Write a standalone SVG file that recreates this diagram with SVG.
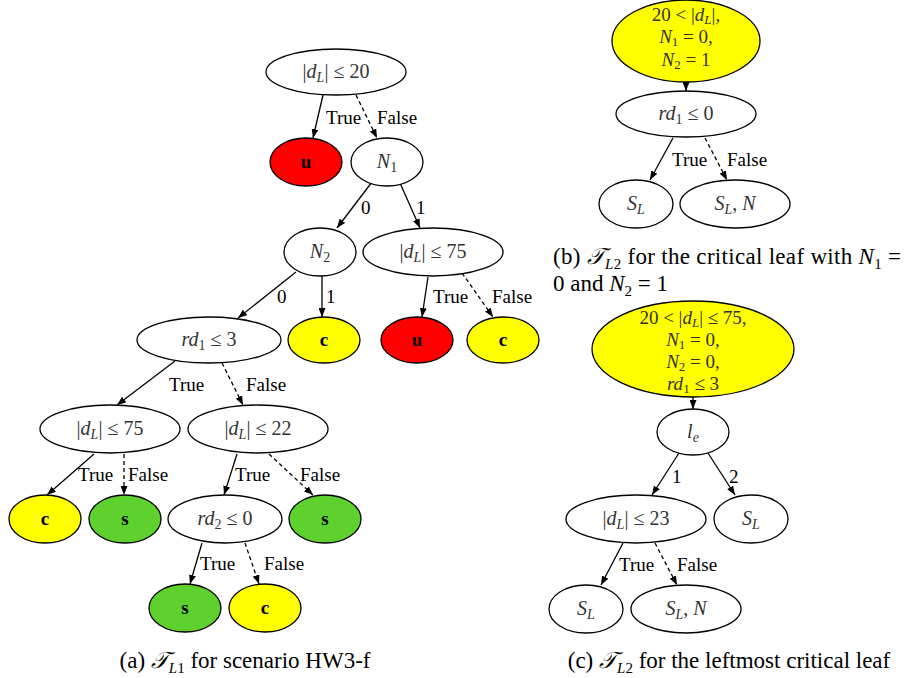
<svg xmlns="http://www.w3.org/2000/svg" width="907" height="678" viewBox="0 0 907 678">
<style>
.n{stroke:#000;stroke-width:1.3;fill:#fff}
.red{fill:#ff0000}
.yel{fill:#ffff00}
.grn{fill:#5fd12f}
.m{font-family:"Liberation Serif","DejaVu Serif",serif;font-size:20px;fill:#333;text-anchor:middle}
.ml{font-size:19px}
.lf{font-family:"Liberation Serif","DejaVu Serif",serif;font-size:19px;font-weight:bold;fill:#000;text-anchor:middle}
.i{font-style:italic}
.sb{font-size:14px;baseline-shift:-4px}
.ml .sb{font-size:13px;baseline-shift:-3px}
.lb{font-family:"Liberation Serif","DejaVu Serif",serif;font-size:19px;fill:#000}
.cap{font-family:"Liberation Serif","DejaVu Serif",serif;font-size:23px;fill:#000}
.cap .sb{font-size:15px;baseline-shift:-5px}
.cal{font-family:"DejaVu Sans","Noto Sans",serif;font-style:italic}
.e{stroke:#000;stroke-width:1.3;fill:none;marker-end:url(#ah)}
.d{stroke-dasharray:4,3}
</style>
<defs>
<marker id="ah" markerUnits="userSpaceOnUse" markerWidth="9" markerHeight="7" refX="9" refY="3.5" orient="auto">
<path d="M0,0 L9,3.5 L0,7 z" fill="#000"/>
</marker>
</defs>

<g id="connectors">
<line class="e" x1="323" y1="95" x2="313" y2="138"/>
<line class="e d" x1="356" y1="95" x2="377" y2="138"/>
<line class="e" x1="372" y1="182" x2="337" y2="228"/>
<line class="e" x1="400" y1="183" x2="420" y2="228"/>
<line class="e" x1="296" y1="272" x2="238" y2="318"/>
<line class="e" x1="322" y1="276" x2="322" y2="317"/>
<line class="e" x1="428" y1="277" x2="422" y2="317"/>
<line class="e d" x1="462" y1="273" x2="493" y2="317"/>
<line class="e" x1="175" y1="361" x2="117" y2="405"/>
<line class="e d" x1="222" y1="363" x2="243" y2="405"/>
<line class="e" x1="94" y1="454" x2="47" y2="495"/>
<line class="e d" x1="124" y1="454" x2="124" y2="495"/>
<line class="e" x1="237" y1="454" x2="224" y2="495"/>
<line class="e d" x1="269" y1="454" x2="313" y2="495"/>
<line class="e" x1="202" y1="543" x2="190" y2="584"/>
<line class="e d" x1="245" y1="543" x2="259" y2="584"/>
<line class="e" x1="686" y1="82" x2="686" y2="91"/>
<line class="e" x1="673" y1="138" x2="650" y2="180"/>
<line class="e d" x1="705" y1="138" x2="727" y2="180"/>
<line class="e" x1="693" y1="397" x2="693" y2="409"/>
<line class="e" x1="679" y1="453" x2="652" y2="495"/>
<line class="e" x1="708" y1="453" x2="735" y2="495"/>
<line class="e" x1="623" y1="543" x2="601" y2="585"/>
<line class="e d" x1="655" y1="543" x2="677" y2="585"/>
</g>

<g id="edge-labels">
<text class="lb" x="326" y="124">True</text>
<text class="lb" x="377" y="124">False</text>
<text class="lb" x="361" y="214">0</text>
<text class="lb" x="416" y="214">1</text>
<text class="lb" x="277" y="303">0</text>
<text class="lb" x="326" y="303">1</text>
<text class="lb" x="433" y="303">True</text>
<text class="lb" x="492" y="303">False</text>
<text class="lb" x="169" y="391">True</text>
<text class="lb" x="246" y="391">False</text>
<text class="lb" x="78" y="481">True</text>
<text class="lb" x="128" y="481">False</text>
<text class="lb" x="235" y="481">True</text>
<text class="lb" x="300" y="481">False</text>
<text class="lb" x="200" y="570">True</text>
<text class="lb" x="264" y="570">False</text>
<text class="lb" x="672" y="166">True</text>
<text class="lb" x="727" y="166">False</text>
<text class="lb" x="672" y="483">1</text>
<text class="lb" x="729" y="483">2</text>
<text class="lb" x="619" y="571">True</text>
<text class="lb" x="677" y="571">False</text>
</g>

<g id="a-root"><ellipse class="n" cx="336" cy="72" rx="70" ry="23"/><text class="m" x="336" y="78">|<tspan class="i">d</tspan><tspan class="sb i">L</tspan>| ≤ 20</text></g>
<g id="a-u1"><ellipse class="n red" cx="306" cy="162" rx="36" ry="24"/><text class="lf" x="306" y="168">u</text></g>
<g id="a-N1"><ellipse class="n" cx="387" cy="162" rx="36" ry="24"/><text class="m" x="387" y="168"><tspan class="i">N</tspan><tspan class="sb">1</tspan></text></g>
<g id="a-N2"><ellipse class="n" cx="320" cy="252" rx="36" ry="24"/><text class="m" x="320" y="258"><tspan class="i">N</tspan><tspan class="sb">2</tspan></text></g>
<g id="a-dl75r"><ellipse class="n" cx="433" cy="252" rx="70" ry="24"/><text class="m" x="433" y="258">|<tspan class="i">d</tspan><tspan class="sb i">L</tspan>| ≤ 75</text></g>
<g id="a-rd1"><ellipse class="n" cx="209" cy="340" rx="72" ry="23"/><text class="m" x="209" y="346"><tspan class="i">rd</tspan><tspan class="sb">1</tspan> ≤ 3</text></g>
<g id="a-c1"><ellipse class="n yel" cx="324" cy="340" rx="36" ry="23"/><text class="lf" x="324" y="346">c</text></g>
<g id="a-u2"><ellipse class="n red" cx="417" cy="340" rx="36" ry="23"/><text class="lf" x="417" y="346">u</text></g>
<g id="a-c2"><ellipse class="n yel" cx="503" cy="340" rx="36" ry="23"/><text class="lf" x="503" y="346">c</text></g>
<g id="a-dl75l"><ellipse class="n" cx="110" cy="429" rx="70" ry="24"/><text class="m" x="110" y="435">|<tspan class="i">d</tspan><tspan class="sb i">L</tspan>| ≤ 75</text></g>
<g id="a-dl22"><ellipse class="n" cx="258" cy="429" rx="70" ry="24"/><text class="m" x="258" y="435">|<tspan class="i">d</tspan><tspan class="sb i">L</tspan>| ≤ 22</text></g>
<g id="a-c3"><ellipse class="n yel" cx="45" cy="519" rx="36" ry="24"/><text class="lf" x="45" y="525">c</text></g>
<g id="a-s1"><ellipse class="n grn" cx="125" cy="519" rx="36" ry="24"/><text class="lf" x="125" y="525">s</text></g>
<g id="a-rd2"><ellipse class="n" cx="225" cy="519" rx="57" ry="24"/><text class="m" x="225" y="525"><tspan class="i">rd</tspan><tspan class="sb">2</tspan> ≤ 0</text></g>
<g id="a-s2"><ellipse class="n grn" cx="325" cy="519" rx="36" ry="24"/><text class="lf" x="325" y="525">s</text></g>
<g id="a-s3"><ellipse class="n grn" cx="185" cy="608" rx="36" ry="24"/><text class="lf" x="185" y="614">s</text></g>
<g id="a-c4"><ellipse class="n yel" cx="265" cy="608" rx="36" ry="24"/><text class="lf" x="265" y="614">c</text></g>

<g id="b-root"><ellipse class="n yel" cx="686" cy="41" rx="74" ry="41"/>
<text class="m ml" x="686" y="21">20 &lt; |<tspan class="i">d</tspan><tspan class="sb i">L</tspan>|,</text>
<text class="m ml" x="686" y="43"><tspan class="i">N</tspan><tspan class="sb">1</tspan> = 0,</text>
<text class="m ml" x="686" y="66"><tspan class="i">N</tspan><tspan class="sb">2</tspan> = 1</text></g>
<g id="b-rd1"><ellipse class="n" cx="686" cy="114" rx="70" ry="23"/><text class="m" x="686" y="120"><tspan class="i">rd</tspan><tspan class="sb">1</tspan> ≤ 0</text></g>
<g id="b-SL"><ellipse class="n" cx="636" cy="204" rx="37" ry="24"/><text class="m" x="636" y="210"><tspan class="i">S</tspan><tspan class="sb i">L</tspan></text></g>
<g id="b-SLN"><ellipse class="n" cx="735" cy="204" rx="55" ry="24"/><text class="m" x="735" y="210"><tspan class="i">S</tspan><tspan class="sb i">L</tspan>, <tspan class="i">N</tspan></text></g>

<g id="c-root"><ellipse class="n yel" cx="693" cy="349" rx="101" ry="48"/>
<text class="m ml" x="693" y="324">20 &lt; |<tspan class="i">d</tspan><tspan class="sb i">L</tspan>| ≤ 75,</text>
<text class="m ml" x="693" y="346"><tspan class="i">N</tspan><tspan class="sb">1</tspan> = 0,</text>
<text class="m ml" x="693" y="368"><tspan class="i">N</tspan><tspan class="sb">2</tspan> = 0,</text>
<text class="m ml" x="693" y="390"><tspan class="i">rd</tspan><tspan class="sb">1</tspan> ≤ 3</text></g>
<g id="c-le"><ellipse class="n" cx="693" cy="432" rx="36" ry="23"/><text class="m" x="693" y="438"><tspan class="i">l</tspan><tspan class="sb i">e</tspan></text></g>
<g id="c-dl23"><ellipse class="n" cx="636" cy="519" rx="70" ry="24"/><text class="m" x="636" y="525">|<tspan class="i">d</tspan><tspan class="sb i">L</tspan>| ≤ 23</text></g>
<g id="c-SLr"><ellipse class="n" cx="751" cy="519" rx="37" ry="24"/><text class="m" x="751" y="525"><tspan class="i">S</tspan><tspan class="sb i">L</tspan></text></g>
<g id="c-SLl"><ellipse class="n" cx="586" cy="609" rx="37" ry="24"/><text class="m" x="586" y="615"><tspan class="i">S</tspan><tspan class="sb i">L</tspan></text></g>
<g id="c-SLN"><ellipse class="n" cx="686" cy="609" rx="55" ry="24"/><text class="m" x="686" y="615"><tspan class="i">S</tspan><tspan class="sb i">L</tspan>, <tspan class="i">N</tspan></text></g>

<g id="captions">
<text class="cap" x="245" y="668" text-anchor="middle">(a) <tspan class="cal">𝒯</tspan><tspan class="sb i">L</tspan><tspan class="sb">1</tspan> for scenario HW3-f</text>
<text class="cap" x="553" y="264" textLength="348" lengthAdjust="spacing">(b) <tspan class="cal">𝒯</tspan><tspan class="sb i">L</tspan><tspan class="sb">2</tspan> for the critical leaf with <tspan class="i">N</tspan><tspan class="sb">1</tspan> =</text>
<text class="cap" x="553" y="291">0 and <tspan class="i">N</tspan><tspan class="sb">2</tspan> = 1</text>
<text class="cap" x="729" y="668" text-anchor="middle">(c) <tspan class="cal">𝒯</tspan><tspan class="sb i">L</tspan><tspan class="sb">2</tspan> for the leftmost critical leaf</text>
</g>
</svg>
